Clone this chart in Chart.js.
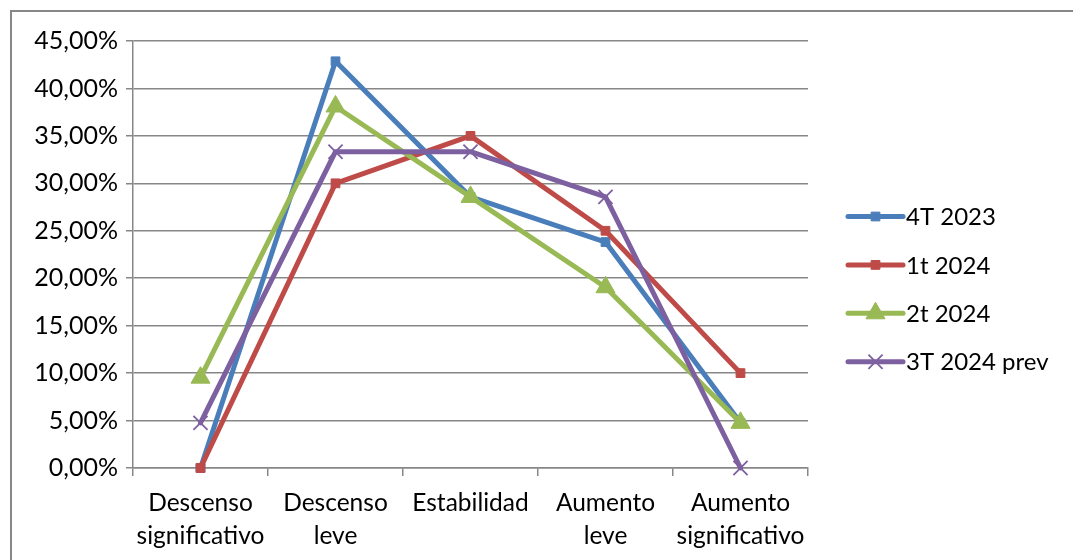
<!DOCTYPE html>
<html>
<head>
<meta charset="utf-8">
<script src="https://cdn.jsdelivr.net/npm/chart.js@4/dist/chart.umd.min.js"></script>
<style>
  html, body { margin: 0; padding: 0; background: #fff; }
  #wrap { width: 1073px; height: 560px; position: relative; }
</style>
</head>
<body>
<div id="wrap"><canvas id="c" width="1073" height="560"></canvas></div>
<script>
// Categories (two-line labels) and series values, in percent
const categories = [
  ['Descenso', 'significativo'],
  ['Descenso', 'leve'],
  ['Estabilidad'],
  ['Aumento', 'leve'],
  ['Aumento', 'significativo']
];
const seriesNames = ['4T 2023', '1t 2024', '2t 2024', '3T 2024 prev'];
const q4_2023 = [0, 42.86, 28.57, 23.81, 4.76];
const q1_2024 = [0, 30.00, 35.00, 25.00, 10.00];
const q2_2024 = [9.52, 38.10, 28.57, 19.05, 4.76];
const q3_2024prev = [4.76, 33.33, 33.33, 28.57, 0];
const yMin = 0, yMax = 45, yStep = 5;

const FONT = 'Lato, "Open Sans", sans-serif';
const GRID = '#878787';

const styles = [
  { color: '#4A7EBB', pointStyle: 'rect', radius: 6.2, bw: 1 },
  { color: '#BE4B48', pointStyle: 'rect', radius: 6.2, bw: 1 },
  { color: '#98B954', pointStyle: 'triangle', radius: 11, bw: 1 },
  { color: '#7D60A0', pointStyle: 'crossRot', radius: 10, bw: 1.8 }
];
const seriesData = [q4_2023, q1_2024, q2_2024, q3_2024prev];

const datasets = seriesData.map((d, i) => ({
  label: seriesNames[i],
  data: d,
  borderColor: styles[i].color,
  backgroundColor: styles[i].color,
  borderWidth: 5,
  tension: 0,
  borderJoinStyle: 'round',
  borderCapStyle: 'round',
  pointStyle: styles[i].pointStyle,
  pointRadius: styles[i].radius,
  pointHoverRadius: styles[i].radius,
  pointBorderWidth: styles[i].bw,
  pointBorderColor: styles[i].color,
  pointBackgroundColor: styles[i].color,
  clip: false,
  order: seriesData.length - i
}));

// Outer frame of the chart object
const framePlugin = {
  id: 'frame',
  beforeDraw(chart) {
    const ctx = chart.ctx;
    ctx.save();
    ctx.fillStyle = '#fff';
    ctx.fillRect(0, 0, chart.width, chart.height);
    ctx.strokeStyle = GRID;
    ctx.lineWidth = 2;
    ctx.strokeRect(11, 11, chart.width + 50, chart.height + 50);
    ctx.restore();
  }
};

function drawMarker(ctx, style, r, x, y) {
  ctx.beginPath();
  if (style === 'rect') {
    const s = Math.SQRT1_2 * r;
    ctx.rect(x - s, y - s, 2 * s, 2 * s);
    ctx.fill(); ctx.stroke();
  } else if (style === 'triangle') {
    for (let k = 0; k < 3; k++) {
      const a = k * 2 * Math.PI / 3;
      const px = x + Math.sin(a) * r, py = y - Math.cos(a) * r;
      if (k === 0) ctx.moveTo(px, py); else ctx.lineTo(px, py);
    }
    ctx.closePath();
    ctx.fill(); ctx.stroke();
  } else {
    const s = Math.SQRT1_2 * r;
    ctx.moveTo(x - s, y - s); ctx.lineTo(x + s, y + s);
    ctx.moveTo(x + s, y - s); ctx.lineTo(x - s, y + s);
    ctx.stroke();
  }
}

// Legend with a line sample and the series marker, drawn to the right of the plot
const lineLegend = {
  id: 'lineLegend',
  afterDraw(chart) {
    const ctx = chart.ctx;
    const x0 = chart.chartArea.right + 40;
    const x1 = x0 + 55;
    const top = 216.5, gap = 48.4;
    ctx.save();
    chart.data.datasets.forEach((ds, i) => {
      const y = top + i * gap;
      ctx.strokeStyle = ds.borderColor;
      ctx.lineWidth = 5;
      ctx.lineCap = 'round';
      ctx.beginPath();
      ctx.moveTo(x0, y);
      ctx.lineTo(x1, y);
      ctx.stroke();
      ctx.lineCap = 'butt';
      ctx.fillStyle = ds.pointBackgroundColor;
      ctx.strokeStyle = ds.pointBorderColor;
      ctx.lineWidth = ds.pointBorderWidth;
      drawMarker(ctx, ds.pointStyle, ds.pointRadius, (x0 + x1) / 2, y);
      ctx.fillStyle = '#000';
      ctx.font = '24px ' + FONT;
      ctx.textBaseline = 'middle';
      ctx.textAlign = 'left';
      ctx.fillText(ds.label, x1 + 3, y + 1);
    });
    ctx.restore();
  }
};

new Chart(document.getElementById('c'), {
  type: 'line',
  data: { labels: categories, datasets },
  plugins: [framePlugin, lineLegend],
  options: {
    responsive: false,
    animation: false,
    devicePixelRatio: 1,
    layout: { padding: { top: 41, right: 265, bottom: 0, left: 0 } },
    plugins: { legend: { display: false }, tooltip: { enabled: false } },
    scales: {
      x: {
        type: 'category',
        offset: true,
        grid: {
          display: true, offset: true, drawOnChartArea: false, drawTicks: true,
          tickLength: 8, color: GRID, lineWidth: 1.5
        },
        border: { display: true, color: GRID, width: 1.5 },
        ticks: {
          color: '#000', padding: 10, maxRotation: 0, autoSkip: false,
          font: { family: FONT, size: 24.5, lineHeight: 1.36 }
        },
        afterFit(scale) { scale.height = 92; }
      },
      y: {
        min: yMin, max: yMax,
        grid: { color: GRID, lineWidth: 1.5, tickLength: 7, drawTicks: true },
        border: { display: true, color: GRID, width: 1.5 },
        ticks: {
          stepSize: yStep, color: '#000', padding: 8,
          font: { family: FONT, size: 25 },
          callback: v => v.toFixed(2).replace('.', ',') + '%'
        },
        afterFit(scale) { scale.width = 133; }
      }
    }
  }
});
</script>
</body>
</html>
